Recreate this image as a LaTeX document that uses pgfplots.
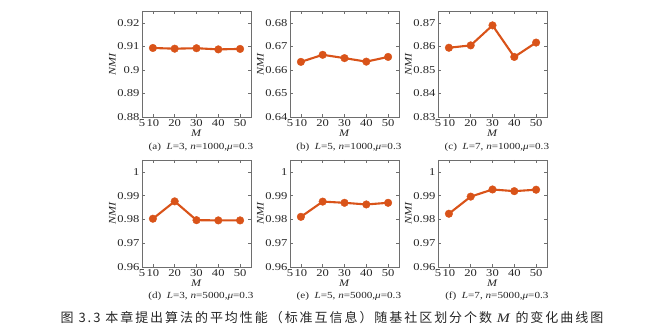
\documentclass[border=0pt]{standalone}
\usepackage{pgfplots}
\pgfplotsset{compat=1.18}
\usepackage{fontspec}
\setmainfont{Liberation Serif}[FakeStretch=1.2]
\newfontfamily\cjk{Noto Sans CJK SC}[LetterSpace=15]
\definecolor{mred}{RGB}{217,83,25}
\definecolor{axgray}{RGB}{110,110,110}
\pgfplotsset{panel/.style={
  scale only axis, width=109pt, height=106pt,
  anchor=south west, clip mode=individual,
  xmin=5, xmax=55, xtick={5,10,20,30,40,50}, xticklabels={5,10,20,30,40,50},
  axis line style={axgray, line width=0.6pt},
  tick style={axgray, line width=0.5pt},
  major tick length=3pt, tick align=inside,
  scaled y ticks=false,
  ticklabel style={font=\rmfamily\fontsize{10.5}{12}\selectfont, text=black!85},
  yticklabel style={xshift=1pt},
  xticklabel style={yshift=1pt},
  xlabel={\textit{M}}, ylabel={\textit{NMI}},
  label style={font=\rmfamily\fontsize{10}{12}\selectfont, text=black!85},
  xlabel style={yshift=3.5pt},
  ylabel style={yshift=-5pt},
}}
\tikzset{ser/.style={mred, line width=2.1pt, mark=*, mark size=3.8pt, mark options={fill=mred, draw=mred, line width=0.4pt}},
  sub/.style={font=\fontsize{9.3}{11}\selectfont, text=black!85}}
\begin{document}
\begin{tikzpicture}
\path[use as bounding box] (0pt,0pt) rectangle (655pt,331pt);
% (a)
\begin{axis}[panel, at={(142pt,214pt)}, ymin=0.88, ymax=0.925, ytick={0.88,0.89,0.9,0.91,0.92}, yticklabels={0.88,0.89,0.9,0.91,0.92}]
\addplot[ser] coordinates {(10,0.9093) (20,0.9090) (30,0.9092) (40,0.9087) (50,0.9089)};
\node[sub] at (rel axis cs:0.54,-0.285) {(a)\ \ \textit{L}=3, \textit{n}=1000,\textit{μ}=0.3};
\end{axis}
% (b)
\begin{axis}[panel, at={(290pt,214pt)}, ymin=0.64, ymax=0.685, ytick={0.64,0.65,0.66,0.67,0.68}, yticklabels={0.64,0.65,0.66,0.67,0.68}]
\addplot[ser] coordinates {(10,0.6634) (20,0.6664) (30,0.6650) (40,0.6635) (50,0.6655)};
\node[sub] at (rel axis cs:0.54,-0.285) {(b)\ \ \textit{L}=5, \textit{n}=1000,\textit{μ}=0.3};
\end{axis}
% (c)
\begin{axis}[panel, at={(438pt,214pt)}, ymin=0.83, ymax=0.875, ytick={0.83,0.84,0.85,0.86,0.87}, yticklabels={0.83,0.84,0.85,0.86,0.87}]
\addplot[ser] coordinates {(10,0.8594) (20,0.8604) (30,0.8689) (40,0.8555) (50,0.8616)};
\node[sub] at (rel axis cs:0.54,-0.285) {(c)\ \ \textit{L}=7, \textit{n}=1000,\textit{μ}=0.3};
\end{axis}
% (d)
\begin{axis}[panel, at={(142pt,64pt)}, height=107pt, ymin=0.96, ymax=1.005, ytick={0.96,0.97,0.98,0.99,1}, yticklabels={0.96,0.97,0.98,0.99,1}]
\addplot[ser] coordinates {(10,0.9803) (20,0.9876) (30,0.9797) (40,0.9796) (50,0.9796)};
\node[sub] at (rel axis cs:0.54,-0.275) {(d)\ \ \textit{L}=3, \textit{n}=5000,\textit{μ}=0.3};
\end{axis}
% (e)
\begin{axis}[panel, at={(290pt,64pt)}, height=107pt, ymin=0.96, ymax=1.005, ytick={0.96,0.97,0.98,0.99,1}, yticklabels={0.96,0.97,0.98,0.99,1}]
\addplot[ser] coordinates {(10,0.9811) (20,0.9875) (30,0.9870) (40,0.9863) (50,0.9870)};
\node[sub] at (rel axis cs:0.54,-0.275) {(e)\ \ \textit{L}=5, \textit{n}=5000,\textit{μ}=0.3};
\end{axis}
% (f)
\begin{axis}[panel, at={(438pt,64pt)}, height=107pt, ymin=0.96, ymax=1.005, ytick={0.96,0.97,0.98,0.99,1}, yticklabels={0.96,0.97,0.98,0.99,1}]
\addplot[ser] coordinates {(10,0.9824) (20,0.9896) (30,0.9926) (40,0.9919) (50,0.9925)};
\node[sub] at (rel axis cs:0.54,-0.275) {(f)\ \ \textit{L}=7, \textit{n}=5000,\textit{μ}=0.3};
\end{axis}
\node[font=\fontsize{13}{15}\selectfont, text=black!85] at (332pt,13pt) {\cjk 图 3.3 本章提出算法的平均性能（标准互信息）随基社区划分个数 {\rmfamily\textit{M}} 的变化曲线图};
\end{tikzpicture}
\end{document}
